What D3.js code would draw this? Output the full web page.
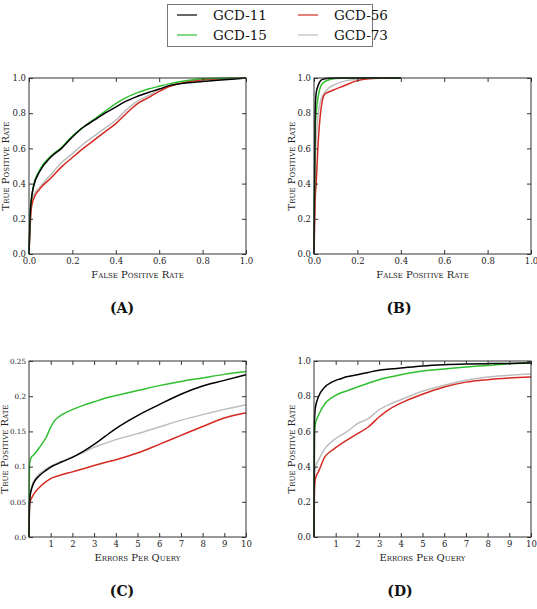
<!DOCTYPE html>
<html>
<head>
<meta charset="utf-8">
<script src="https://cdn.jsdelivr.net/npm/d3@7"></script>
<style>
  body { margin: 0; background: #fff; }
  svg { display: block; font-family: "DejaVu Serif", serif; }
</style>
</head>
<body>
<div id="chart"></div>
<script>
// series names and colours
const seriesNames = ["GCD-11", "GCD-15", "GCD-56", "GCD-73"];
const seriesColors = ["#000000", "#2fbf2f", "#d42a22", "#bdbdbd"];

// (A) ROC
const rocA_fpr = [0, 0.005, 0.01, 0.02, 0.05, 0.1, 0.15, 0.2, 0.25, 0.3, 0.35, 0.4, 0.45, 0.5, 0.55, 0.6, 0.65, 0.7, 0.8, 0.9, 1.0];
const rocA_gcd11 = [0, 0.22, 0.3, 0.38, 0.47, 0.55, 0.6, 0.665, 0.72, 0.76, 0.8, 0.835, 0.87, 0.896, 0.918, 0.937, 0.958, 0.968, 0.98, 0.99, 1];
const rocA_gcd15 = [0, 0.22, 0.3, 0.38, 0.48, 0.555, 0.605, 0.67, 0.72, 0.765, 0.81, 0.855, 0.89, 0.917, 0.937, 0.953, 0.968, 0.98, 0.996, 0.999, 1];
const rocA_gcd56 = [0, 0.15, 0.25, 0.31, 0.37, 0.43, 0.495, 0.548, 0.6, 0.647, 0.694, 0.741, 0.8, 0.855, 0.888, 0.924, 0.953, 0.97, 0.99, 0.997, 1];
const rocA_gcd73 = [0, 0.17, 0.27, 0.33, 0.38, 0.45, 0.52, 0.57, 0.625, 0.67, 0.715, 0.76, 0.82, 0.87, 0.9, 0.935, 0.958, 0.972, 0.99, 0.997, 1];

// (B) ROC
const rocB_fpr = [0, 0.005, 0.01, 0.02, 0.03, 0.04, 0.05, 0.07, 0.1, 0.15, 0.2, 0.25, 0.3, 0.4];
const rocB_gcd11 = [0, 0.8, 0.915, 0.96, 0.985, 0.992, 0.996, 0.999, 1, 1, 1, 1, 1, 1];
const rocB_gcd15 = [0, 0.7, 0.8, 0.9, 0.95, 0.97, 0.98, 0.99, 0.997, 1, 1, 1, 1, 1];
const rocB_gcd56 = [0, 0.3, 0.4, 0.65, 0.8, 0.88, 0.909, 0.922, 0.937, 0.962, 0.985, 0.996, 0.999, 1];
const rocB_gcd73 = [0, 0.5, 0.65, 0.8, 0.87, 0.9, 0.92, 0.945, 0.965, 0.985, 0.993, 0.997, 1, 1];

// (C) and (D) errors per query
const epq = [0, 0.02, 0.05, 0.1, 0.2, 0.5, 0.8, 1, 1.2, 1.5, 2, 2.5, 3, 3.5, 4, 5, 6, 7, 8, 9, 10];
const epqC_gcd11 = [0, 0.045, 0.058, 0.066, 0.0758, 0.0876, 0.095, 0.0994, 0.1025, 0.1065, 0.113, 0.1215, 0.1315, 0.1428, 0.154, 0.1725, 0.188, 0.2027, 0.2145, 0.2225, 0.2306];
const epqC_gcd15 = [0, 0.1, 0.108, 0.113, 0.116, 0.128, 0.142, 0.156, 0.166, 0.1735, 0.181, 0.187, 0.192, 0.197, 0.201, 0.208, 0.215, 0.221, 0.226, 0.231, 0.235];
const epqC_gcd56 = [0, 0.04, 0.05, 0.054, 0.06, 0.071, 0.079, 0.083, 0.0855, 0.0885, 0.0925, 0.097, 0.1015, 0.1058, 0.1098, 0.1193, 0.1316, 0.1444, 0.157, 0.169, 0.1765];
const epqC_gcd73 = [0, 0.045, 0.06, 0.068, 0.078, 0.09, 0.097, 0.1005, 0.1035, 0.1075, 0.1136, 0.12, 0.1275, 0.133, 0.1383, 0.1468, 0.1563, 0.1657, 0.1738, 0.1813, 0.188];
const epqD_gcd11 = [0, 0.65, 0.72, 0.757, 0.795, 0.852, 0.878, 0.89, 0.898, 0.91, 0.922, 0.935, 0.947, 0.954, 0.96, 0.972, 0.979, 0.983, 0.985, 0.986, 0.989];
const epqD_gcd15 = [0, 0.58, 0.63, 0.66, 0.69, 0.757, 0.79, 0.805, 0.817, 0.83, 0.852, 0.874, 0.894, 0.909, 0.922, 0.943, 0.955, 0.966, 0.975, 0.985, 0.989];
const epqD_gcd56 = [0, 0.26, 0.32, 0.345, 0.37, 0.455, 0.49, 0.508, 0.525, 0.549, 0.587, 0.625, 0.682, 0.728, 0.761, 0.811, 0.852, 0.88, 0.894, 0.903, 0.909];
const epqD_gcd73 = [0, 0.32, 0.38, 0.41, 0.435, 0.502, 0.54, 0.559, 0.575, 0.597, 0.644, 0.672, 0.723, 0.755, 0.78, 0.828, 0.862, 0.89, 0.909, 0.919, 0.928];

// tick values / labels
const rocTicks = [0, 0.2, 0.4, 0.6, 0.8, 1.0];
const rocTickLabels = ["0.0", "0.2", "0.4", "0.6", "0.8", "1.0"];
const epqTicks = [1, 2, 3, 4, 5, 6, 7, 8, 9, 10];
const tprCTicks = [0, 0.05, 0.1, 0.15, 0.2, 0.25];
const tprCTickLabels = ["0.0", "0.05", "0.1", "0.15", "0.2", "0.25"];

const panels = [
  { id: "A", left: 29, top: 78, x: rocA_fpr, ys: [rocA_gcd11, rocA_gcd15, rocA_gcd56, rocA_gcd73],
    xdom: [0, 1], ydom: [0, 1], xt: rocTicks, xl: rocTickLabels, yt: rocTicks, yl: rocTickLabels, ytSize: 8.5,
    xlabel: "False Positive Rate", ylabelX: 8.5 },
  { id: "B", left: 314, top: 78, x: rocB_fpr, ys: [rocB_gcd11, rocB_gcd15, rocB_gcd56, rocB_gcd73],
    xdom: [0, 1], ydom: [0, 1], xt: rocTicks, xl: rocTickLabels, yt: rocTicks, yl: rocTickLabels, ytSize: 8.5,
    xlabel: "False Positive Rate", ylabelX: 294.5 },
  { id: "C", left: 29, top: 361, x: epq, ys: [epqC_gcd11, epqC_gcd15, epqC_gcd56, epqC_gcd73],
    xdom: [0, 10], ydom: [0, 0.25], xt: epqTicks, xl: epqTicks.map(String), yt: tprCTicks, yl: tprCTickLabels, ytSize: 7.2,
    xlabel: "Errors Per Query", ylabelX: 8 },
  { id: "D", left: 314, top: 361, x: epq, ys: [epqD_gcd11, epqD_gcd15, epqD_gcd56, epqD_gcd73],
    xdom: [0, 10], ydom: [0, 1], xt: epqTicks, xl: epqTicks.map(String), yt: rocTicks, yl: rocTickLabels, ytSize: 8.5,
    xlabel: "Errors Per Query", ylabelX: 294.5 }
];

const pw = 217, ph = 176;
const labelX = { A: 122, B: 399, C: 122, D: 400 };

var svg = d3.select("#chart").append("svg").attr("width", 537).attr("height", 609);

// draw order: gray and red underneath, then green, then black
const drawOrder = [3, 2, 1, 0];

panels.forEach(function (p) {
  var g = svg.append("g").attr("transform", "translate(" + p.left + "," + p.top + ")");
  var x = d3.scaleLinear().domain(p.xdom).range([0, pw]);
  var y = d3.scaleLinear().domain(p.ydom).range([ph, 0]);

  var line = d3.line()
    .x(function (d) { return x(d[0]); })
    .y(function (d) { return y(d[1]); })
    .curve(d3.curveMonotoneX);

  drawOrder.forEach(function (k) {
    g.append("path")
      .datum(p.x.map(function (v, i) { return [v, p.ys[k][i]]; }))
      .attr("d", line)
      .attr("fill", "none")
      .attr("stroke", seriesColors[k])
      .attr("stroke-width", 1.5)
      .attr("stroke-linejoin", "round");
  });

  // axes with inward ticks on all four sides
  var fmtX = function (d) { return p.xl[p.xt.indexOf(d)]; };
  var fmtY = function (d) { return p.yl[p.yt.indexOf(d)]; };
  var xb = g.append("g").attr("transform", "translate(0," + ph + ")")
    .call(d3.axisBottom(x).tickValues(p.xt).tickFormat(fmtX).tickSizeInner(-4).tickSizeOuter(0).tickPadding(4));
  var xt = g.append("g").call(d3.axisTop(x).tickValues(p.xt).tickFormat("").tickSizeInner(-4).tickSizeOuter(0));
  var yl = g.append("g")
    .call(d3.axisLeft(y).tickValues(p.yt).tickFormat(fmtY).tickSizeInner(-4).tickSizeOuter(0).tickPadding(3));
  var yr = g.append("g").attr("transform", "translate(" + pw + ",0)")
    .call(d3.axisRight(y).tickValues(p.yt).tickFormat("").tickSizeInner(-4).tickSizeOuter(0));
  [xb, xt, yl, yr].forEach(function (a) {
    a.select(".domain").remove();
    a.selectAll("line").attr("stroke", "#333");
    a.selectAll("text").attr("font-family", "DejaVu Serif").attr("font-size", "8.5px").attr("fill", "#222");
  });
  yl.selectAll("text").attr("font-size", p.ytSize + "px");

  g.append("rect").attr("width", pw).attr("height", ph)
    .attr("fill", "none").attr("stroke", "#333").attr("stroke-width", 1);

  g.append("text")
    .attr("x", pw / 2).attr("y", ph + 24)
    .attr("text-anchor", "middle")
    .attr("font-size", "10px")
    .style("font-variant", "small-caps")
    .attr("fill", "#222")
    .text(p.xlabel);

  svg.append("text")
    .attr("transform", "translate(" + p.ylabelX + "," + (p.top + ph / 2) + ") rotate(-90)")
    .attr("text-anchor", "middle")
    .attr("font-size", "10px")
    .style("font-variant", "small-caps")
    .attr("fill", "#222")
    .text("True Positive Rate");

  svg.append("text")
    .attr("x", labelX[p.id]).attr("y", p.top + ph + 59)
    .attr("text-anchor", "middle")
    .attr("font-size", "14px")
    .attr("font-weight", "bold")
    .attr("fill", "#111")
    .text("(" + p.id + ")");
});

// legend
var legend = svg.append("g");
legend.append("rect").attr("x", 167.5).attr("y", 4.5).attr("width", 205).attr("height", 42)
  .attr("fill", "#fff").attr("stroke", "#777").attr("stroke-width", 1);
const legendOrder = [0, 2, 1, 3];
legendOrder.forEach(function (k, i) {
  var col = i % 2, row = Math.floor(i / 2);
  var lx = 177 + col * 121, ly = 15 + row * 20;
  legend.append("line").attr("x1", lx).attr("x2", lx + 20).attr("y1", ly).attr("y2", ly)
    .attr("stroke", seriesColors[k]).attr("stroke-width", 1.2);
  legend.append("text").attr("x", lx + 36).attr("y", ly + 5)
    .attr("font-size", "13.5px").attr("fill", "#111")
    .text(seriesNames[k]);
});
</script>
</body>
</html>
